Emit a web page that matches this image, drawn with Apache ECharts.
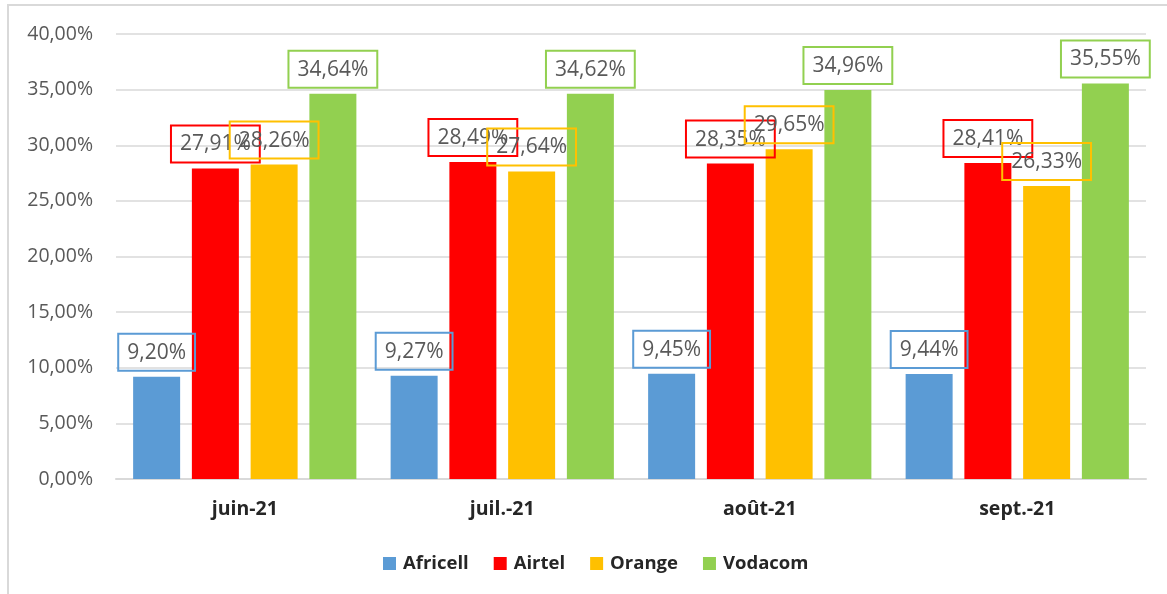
<!DOCTYPE html>
<html lang="fr">
<head>
    <meta charset="UTF-8">
    <title>Parts de marché</title>
    <script src="https://cdn.jsdelivr.net/npm/echarts@6/dist/echarts.min.js"></script>
    <style>
        html, body { margin: 0; padding: 0; background: #fff; }
        #chart { width: 1167px; height: 594px; }
    </style>
</head>
<body>
    <div id="chart"></div>
    <script>
        // données
        const months = ['juin-21', 'juil.-21', 'août-21', 'sept.-21'];
        const africell = [9.20, 9.27, 9.45, 9.44];
        const airtel = [27.91, 28.49, 28.35, 28.41];
        const orange = [28.26, 27.64, 29.65, 26.33];
        const vodacom = [34.64, 34.62, 34.96, 35.55];

        const operators = [
            { name: 'Africell', data: africell, color: '#5b9bd5' },
            { name: 'Airtel', data: airtel, color: '#ff0000' },
            { name: 'Orange', data: orange, color: '#ffc000' },
            { name: 'Vodacom', data: vodacom, color: '#92d050' }
        ];

        function pct(v) {
            return v.toFixed(2).replace('.', ',') + '%';
        }

        const chart = echarts.init(document.getElementById('chart'));

        const option = {
            animation: false,
            textStyle: { fontFamily: 'Open Sans' },
            graphic: [{
                type: 'rect',
                shape: { x: 8, y: 5, width: 1300, height: 800 },
                style: { fill: 'none', stroke: '#d9d9d9', lineWidth: 2 },
                silent: true
            }],
            grid: { left: 116, right: 21, top: 34, bottom: 115 },
            legend: {
                top: 549,
                left: 378,
                itemWidth: 13,
                itemHeight: 13,
                itemGap: 25,
                icon: 'rect',
                textStyle: { fontSize: 18.5, fontWeight: 'bold', color: '#262626', padding: [0, 0, 0, 2] },
                data: operators.map(o => o.name)
            },
            xAxis: {
                type: 'category',
                data: months,
                axisTick: { show: false },
                axisLine: { lineStyle: { color: '#d9d9d9', width: 2 } },
                axisLabel: { fontSize: 19.5, fontWeight: 'bold', color: '#262626', margin: 20 }
            },
            yAxis: {
                type: 'value',
                min: 0,
                max: 40,
                interval: 5,
                axisLabel: { fontSize: 19.5, color: '#595959', margin: 23, formatter: pct },
                splitLine: { lineStyle: { color: '#d9d9d9', width: 1.5 } }
            },
            series: operators.map(o => ({
                name: o.name,
                type: 'bar',
                data: o.data,
                barWidth: 47,
                barGap: '25%',
                itemStyle: { color: o.color },
                label: {
                    show: true,
                    position: 'top',
                    distance: 6,
                    formatter: p => pct(p.value),
                    fontSize: 21,
                    lineHeight: 24,
                    color: '#595959',
                    borderColor: o.color,
                    borderWidth: 2,
                    padding: [7, 9, 6, 9]
                }
            }))
        };

        chart.setOption(option);
    </script>
</body>
</html>
